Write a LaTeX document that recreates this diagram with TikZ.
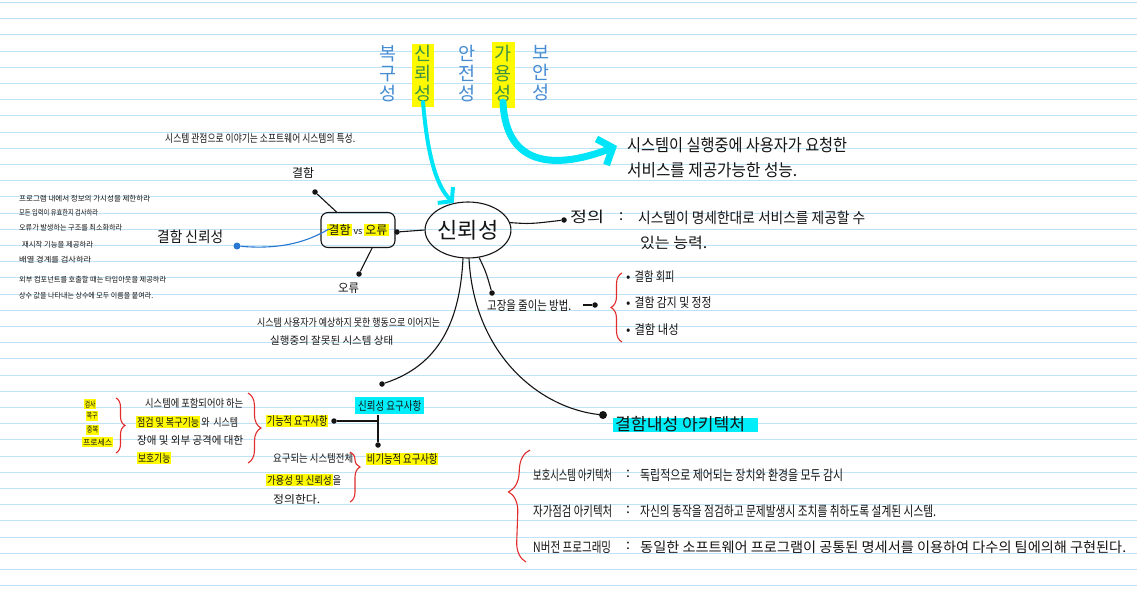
\documentclass[tikz,border=0pt]{standalone}
\usepackage{fontspec}
\usepackage{graphicx}
\setmainfont{Noto Sans CJK KR}
\usetikzlibrary{shapes.geometric,arrows.meta,decorations.pathreplacing}
\definecolor{ink}{RGB}{20,20,20}
\definecolor{paperline}{RGB}{192,226,245}
\definecolor{bluepen}{RGB}{70,140,210}
\definecolor{greenpen}{RGB}{60,145,70}
\definecolor{hlyellow}{RGB}{255,250,0}
\definecolor{hlcyan}{RGB}{0,238,250}
\definecolor{arrowcyan}{RGB}{0,228,248}
\definecolor{redpen}{RGB}{225,45,45}
\definecolor{bluedot}{RGB}{40,120,210}
\newcommand\fw[2]{\resizebox{#1pt}{\height}{#2}}
\newcommand\hly[1]{{\setlength{\fboxsep}{1pt}\colorbox{hlyellow}{#1}}}
\tikzset{
  t/.style={anchor=west,inner sep=0pt,text=ink,font=\fontsize{#1}{#1}\selectfont},
  vcol/.style={anchor=north,inner sep=0pt,align=center,font=\fontsize{18.5}{20}\selectfont},
  dot/.style={circle,fill=ink,inner sep=0pt,minimum size=5.5pt},
  conn/.style={draw=ink,line width=1.1pt},
  redbrace/.style={draw=redpen,line width=1.1pt,decorate,decoration={brace,amplitude=#1}},
  cyanarrow/.style={draw=arrowcyan,line width=#1,line cap=round},
}
\begin{document}
\begin{tikzpicture}[x=1pt,y=-1pt]
\useasboundingbox (0,0) rectangle (1137,592);
\fill[white] (0,0) rectangle (1137,592);
\foreach \k in {0,...,36} \draw[paperline,line width=0.9pt] (0,{2.4+16.2*\k}) -- (1137,{2.4+16.2*\k});

% top vertical words
\fill[hlyellow] (412,44) rectangle (434,107);
\fill[hlyellow] (492,42) rectangle (515,108);
\node[vcol,text=bluepen] (c1) at (388,45) {복\\구\\성};
\node[vcol,text=greenpen] (c2) at (423,45) {신\\뢰\\성};
\node[vcol,text=bluepen] (c3) at (467,45) {안\\전\\성};
\node[vcol,text=greenpen] (c4) at (503,45) {가\\용\\성};
\node[vcol,text=bluepen] (c5) at (541,45) {보\\안\\성};

% availability definition
\node[t=17] (avail1) at (627,145) {\fw{220}{시스템이 실행중에 사용자가 요청한}};
\node[t=17] (avail2) at (627,170) {\fw{170}{서비스를 제공가능한 성능.}};
\coordinate (arrBend) at (617,146);

% title
\node[t=11] (title) at (165,138) {\fw{190}{시스템 관점으로 이야기는 소프트웨어 시스템의 특성.}};

% left list
\node[t=7.5] (l1) at (19,199) {\fw{131}{프로그램 내에서 정보의 가시성을 제한하라}};
\node[t=7.5] (l2) at (19,213) {\fw{79}{모든 입력이 유효한지 검사하라}};
\node[t=7.5] (l3) at (19,228) {\fw{103}{오류가 발생하는 구조를 최소화하라}};
\node[t=7.5] (l4) at (22,245) {\fw{71}{재시작 기능을 제공하라}};
\node[t=7.5] (l5) at (19,260) {\fw{72}{배열 경계를 검사하라}};
\node[t=7.5] (l6) at (19,280) {\fw{147}{외부 컴포넌트를 호출할 때는 타임아웃을 제공하라}};
\node[t=7.5] (l7) at (19,296) {\fw{134}{상수 값을 나타내는 상수에 모두 이름을 붙여라.}};

\node[t=15] (faultrel) at (157,237) {\fw{66}{결함 신뢰성}};

% box and ellipse
\node[draw=ink,line width=1.1pt,rounded corners=7pt,minimum width=74pt,minimum height=35pt,inner sep=1pt,font=\fontsize{12}{12}\selectfont,text=ink] (box) at (358,230) {\hly{결함}\,{\fontsize{9}{9}\selectfont vs}\,\hly{오류}};
\node[draw=ink,line width=1.1pt,ellipse,minimum width=84pt,minimum height=56pt,inner sep=0pt,font=\fontsize{22}{22}\selectfont,text=ink] (rel) at (468,230) {신뢰성};

\node[t=12] (fault) at (292,173) {\fw{22}{결함}};
\node[t=12] (err) at (338,288) {\fw{21}{오류}};
\node[dot] (dfault) at (315,192) {};
\node[dot] (derr) at (359,274) {};
\node[dot] (dbox) at (397,232) {};
\node[circle,fill=bluedot,inner sep=0pt,minimum size=7pt] (dblue) at (237,246) {};
\coordinate (bluein) at (329,229);

\draw[conn] (dfault) -- (box.140);
\draw[conn] (derr) -- (box.-52);
\draw[conn] (rel.west) -- (dbox);
\draw[draw=bluedot,line width=1.1pt] (dblue) .. controls (285,250) and (310,240) .. (bluein);

% definition
\node[dot] (ddef) at (564,220) {};
\node[t=15] (defw) at (570,217) {\fw{34}{정의}};
\node[t=15] (defc) at (619,217) {:};
\node[t=15] (def1) at (638,218) {\fw{227}{시스템이 명세한대로 서비스를 제공할 수}};
\node[t=15] (def2) at (640,243) {\fw{67}{있는 능력.}};
\draw[conn] (rel.10) .. controls (530,224) .. (ddef);

% cyan arrows
\draw[cyanarrow=4pt,-{Straight Barb[length=9pt,width=22pt]}] (c2.south) .. controls (427,150) and (435,185) .. (rel.118);
\draw[cyanarrow=7pt,-{Straight Barb[length=12pt,width=28pt]}] (c4.south) .. controls (506,170) and (560,168) .. (arrBend);

% failure reduction
\node[dot] (dfail) at (492,293) {};
\draw[conn] (rel.-68) .. controls (486,272) .. (dfail);
\node[t=13] (failtxt) at (487,306) {\fw{84}{고장을 줄이는 방법.}};
\coordinate (dashstart) at (583,305);
\node[dot] (dfail2) at (595,305) {};
\draw[conn] (dashstart) -- (dfail2);
\draw[redbrace=11pt] (622,342) -- (622,273);
\node[t=13] (b1) at (626,277) {•\hspace{4pt}\fw{40}{결함 회피}};
\node[t=13] (b2) at (626,303) {•\hspace{4pt}\fw{77}{결함 감지 및 정정}};
\node[t=13] (b3) at (626,330) {•\hspace{4pt}\fw{44}{결함 내성}};

% error definition
\node[t=10.5] (errdef1) at (257,323) {\fw{183}{시스템 사용자가 예상하지 못한 행동으로 이어지는}};
\node[t=10.5] (errdef2) at (270,341) {\fw{123}{실행중의 잘못된 시스템 상태}};

% reliability requirements
\node[dot] (dreq) at (382,384) {};
\draw[conn] (rel.-100) .. controls (460,320) and (440,365) .. (dreq);
\fill[hlcyan] (355,397) rectangle (424,414);
\node[t=12] (reqtxt) at (358,406) {\fw{63}{신뢰성 요구사항}};
\node[dot] (dfunc) at (334,421) {};
\coordinate (junc) at (378,421);
\coordinate (junctop) at (378,415);
\node[dot] (dnonfunc) at (378,445) {};
\draw[conn] (dfunc) -- (junc);
\draw[conn] (junctop) -- (dnonfunc);
\node[t=12] (functxt) at (266,421) {\fw{62}{\hly{기능적 요구사항}}};
\node[t=12] (nonfunctxt) at (366,459) {\fw{72}{\hly{비기능적 요구사항}}};

% left stacked
\node[t=8] (s1) at (84,404) {\fw{12}{\hly{검사}}};
\node[t=8] (s2) at (86,416) {\fw{12}{\hly{복구}}};
\node[t=8] (s3) at (86,430) {\fw{13}{\hly{중복}}};
\node[t=8] (s4) at (82,442) {\fw{31}{\hly{프로세스}}};
\draw[redbrace=9pt] (116,398) -- (116,453);

\node[t=11] (f1) at (145,403) {\fw{98}{시스템에 포함되어야 하는}};
\node[t=11] (f2) at (136,422) {\fw{102}{\hly{점검 및 복구기능}\,와 \,시스템}};
\node[t=11] (f3) at (137,440) {\fw{106}{장애 및 외부 공격에 대한}};
\node[t=11] (f4) at (137,458) {\fw{34}{\hly{보호기능}}};
\draw[redbrace=13pt] (248,393) -- (248,463);

\node[t=11] (n1) at (273,458) {\fw{80}{요구되는 시스템전체}};
\node[t=11] (n2) at (266,480) {\fw{75}{\hly{가용성 및 신뢰성}을}};
\node[t=11] (n3) at (273,499) {\fw{47}{정의한다.}};
\draw[redbrace=10pt,decoration={aspect=0.3}] (350,452) -- (350,502);

% fault tolerant architecture
\node[circle,fill=ink,inner sep=0pt,minimum width=7pt,minimum height=8pt] (dft) at (603,415) {};
\draw[conn] (rel.-88) .. controls (474,355) and (540,408) .. (dft);
\fill[hlcyan] (613,418) rectangle (758,432);
\node[t=17] (fttxt) at (615,424) {\fw{130}{결함내성 아키텍처}};
\draw[redbrace=20pt,decoration={aspect=0.62}] (526,562) -- (530,450);

\node[t=14] (a1) at (533,475) {\fw{79}{보호시스템 아키텍처}};
\node[t=14] (a1c) at (626,474) {:};
\node[t=14] (a1d) at (640,475) {\fw{203}{독립적으로 제어되는 장치와 환경을 모두 감시}};
\node[t=14] (a2) at (533,511) {\fw{79}{자가점검 아키텍처}};
\node[t=14] (a2c) at (626,510) {:};
\node[t=14] (a2d) at (640,511) {\fw{296}{자신의 동작을 점검하고 문제발생시 조치를 취하도록 설계된 시스템.}};
\node[t=14] (a3) at (533,547) {\fw{78}{N버전 프로그래밍}};
\node[t=14] (a3c) at (626,546) {:};
\node[t=14] (a3d) at (640,547) {\fw{486}{동일한 소프트웨어 프로그램이 공통된 명세서를 이용하여 다수의 팀에의해 구현된다.}};
\end{tikzpicture}
\end{document}
